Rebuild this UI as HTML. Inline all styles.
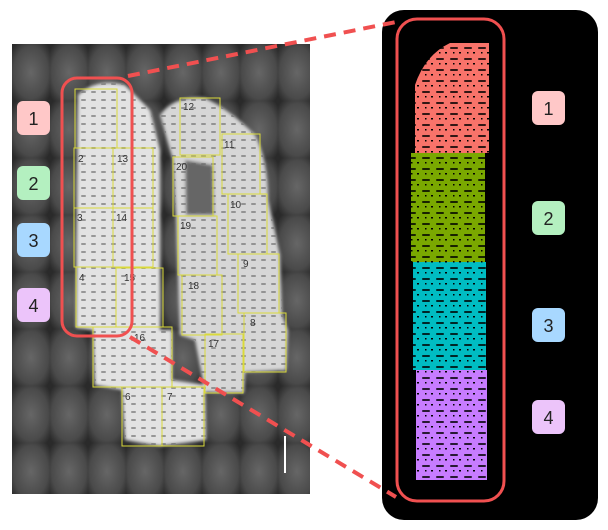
<!DOCTYPE html>
<html><head><meta charset="utf-8"><style>
html,body{margin:0;padding:0;background:#fff;width:608px;height:530px;overflow:hidden;font-family:"Liberation Sans",sans-serif}
</style></head><body>
<svg width="608" height="530" viewBox="0 0 608 530" xmlns="http://www.w3.org/2000/svg">
<defs>
<radialGradient id="tileg" cx="50%" cy="50%" r="65%">
<stop offset="0" stop-color="#666"/><stop offset="0.7" stop-color="#4a4a4a"/><stop offset="1" stop-color="#2a2a2a"/>
</radialGradient>
<pattern id="tiles" x="12" y="44" width="38" height="57" patternUnits="userSpaceOnUse">
<rect width="38" height="57" fill="url(#tileg)"/>
</pattern>
<pattern id="holes" width="14" height="11" patternUnits="userSpaceOnUse">
<rect x="2" y="3" width="8" height="2" rx="1" fill="#000" opacity="0.8"/>
<rect x="11" y="8" width="2" height="1.5" fill="#000"/>
<rect x="5" y="8" width="1.5" height="1.5" fill="#000"/>
</pattern>
<pattern id="tholes" width="10" height="8" patternUnits="userSpaceOnUse">
<rect x="1" y="3" width="5" height="2" rx="1" fill="#666" opacity="0.6"/>
</pattern>
<clipPath id="tclip">
<path d="M78,95 Q95,78 125,85 Q140,100 150,110 L160,150 L160,330 L172,330 L172,380 L205,385 L206,440 L160,446 L125,440 L122,390 L95,385 L93,330 L76,328 Z"/>
<path d="M160,115 Q175,95 205,98 Q230,110 255,135 Q268,160 268,200 L280,255 L282,315 L288,330 L286,370 L245,372 L244,393 L205,392 L195,340 L180,335 L176,215 L173,160 Z"/>
</clipPath>
<filter id="soft"><feGaussianBlur stdDeviation="1.5"/></filter>
</defs>

<g>
<rect x="12" y="44" width="298" height="450" fill="url(#tiles)"/>
<g filter="url(#soft)">
<path d="M78,95 Q95,78 125,85 Q140,100 150,110 L160,150 L160,330 L172,330 L172,380 L205,385 L206,440 L160,446 L125,440 L122,390 L95,385 L93,330 L76,328 Z" fill="#e2e2e2"/>
<path d="M160,115 Q175,95 205,98 Q230,110 255,135 Q268,160 268,200 L280,255 L282,315 L288,330 L286,370 L245,372 L244,393 L205,392 L195,340 L180,335 L176,215 L173,160 Z" fill="#d6d6d6"/>
<path d="M185,160 L213,165 L214,215 L186,215 Z" fill="#666"/>
</g>
<rect x="70" y="80" width="220" height="370" fill="url(#tholes)" clip-path="url(#tclip)"/>
<g fill="none" stroke="#dada3a" stroke-width="1">
<rect x="75" y="89" width="42" height="59"/><rect x="74" y="148" width="39" height="60"/><rect x="113" y="148" width="40" height="60"/>
<rect x="74" y="208" width="39" height="59"/><rect x="113" y="208" width="40" height="59"/><rect x="76" y="267" width="40" height="60"/>
<rect x="116" y="268" width="47" height="59"/><rect x="93" y="327" width="79" height="60"/><rect x="122" y="387" width="40" height="59"/>
<rect x="162" y="387" width="42" height="59"/><rect x="180" y="98" width="40" height="57"/><rect x="222" y="134" width="38" height="60"/>
<rect x="173" y="157" width="40" height="59"/><rect x="178" y="216" width="39" height="59"/><rect x="228" y="194" width="39" height="60"/>
<rect x="238" y="254" width="41" height="59"/><rect x="182" y="275" width="40" height="60"/><rect x="244" y="313" width="42" height="59"/>
<rect x="205" y="334" width="38" height="59"/>
</g>
<g font-size="10" fill="#333">
<text x="78" y="162">2</text><text x="117" y="162">13</text><text x="77" y="221">3</text><text x="116" y="221">14</text>
<text x="79" y="281">4</text><text x="124" y="281">15</text><text x="134" y="341">16</text><text x="125" y="400">6</text>
<text x="167" y="400">7</text><text x="183" y="110">12</text><text x="224" y="148">11</text><text x="176" y="170">20</text>
<text x="180" y="229">19</text><text x="230" y="208">10</text><text x="243" y="267">9</text><text x="188" y="289">18</text>
<text x="250" y="326">8</text><text x="208" y="347">17</text>
</g>
<line x1="285" y1="436" x2="285" y2="473" stroke="#fff" stroke-width="2"/>
<rect x="62" y="78" width="70" height="258" rx="15" fill="none" stroke="#f05050" stroke-width="3"/>
</g>

<g font-size="18" text-anchor="middle" fill="#222">
<rect x="17" y="101" width="33" height="34" rx="6" fill="#ffc8c8"/><text x="33.5" y="125">1</text>
<rect x="17" y="166" width="33" height="34" rx="6" fill="#b4f0c0"/><text x="33.5" y="190">2</text>
<rect x="17" y="223" width="33" height="34" rx="6" fill="#a8d8ff"/><text x="33.5" y="247">3</text>
<rect x="17" y="288" width="33" height="34" rx="6" fill="#ecc4fa"/><text x="33.5" y="312">4</text>
</g>

<g>
<rect x="382" y="10" width="216" height="510" rx="22" fill="#000"/>
<path d="M450,43 L489,43 L489,153 L415,153 L415,85 Q425,55 450,43 Z" fill="#f8736a"/>
<rect x="411" y="153" width="74" height="109" fill="#7aa800"/>
<rect x="413" y="262" width="73" height="108" fill="#00bcc2"/>
<rect x="416" y="370" width="71" height="110" fill="#c77cff"/>
<rect x="411" y="43" width="78" height="437" fill="url(#holes)"/>
<rect x="397" y="19" width="107" height="482" rx="20" fill="none" stroke="#f05050" stroke-width="3"/>
<g font-size="18" text-anchor="middle" fill="#222">
<rect x="532" y="91" width="33" height="34" rx="6" fill="#ffc8c8"/><text x="548.5" y="115">1</text>
<rect x="532" y="201" width="33" height="34" rx="6" fill="#b4f0c0"/><text x="548.5" y="225">2</text>
<rect x="532" y="308" width="33" height="34" rx="6" fill="#a8d8ff"/><text x="548.5" y="332">3</text>
<rect x="532" y="400" width="33" height="34" rx="6" fill="#ecc4fa"/><text x="548.5" y="424">4</text>
</g>
</g>

<g stroke="#f05050" stroke-width="4" stroke-dasharray="12,8" fill="none">
<line x1="128" y1="76" x2="396" y2="22"/>
<line x1="130" y1="337" x2="396" y2="497"/>
</g>
</svg>
</body></html>
